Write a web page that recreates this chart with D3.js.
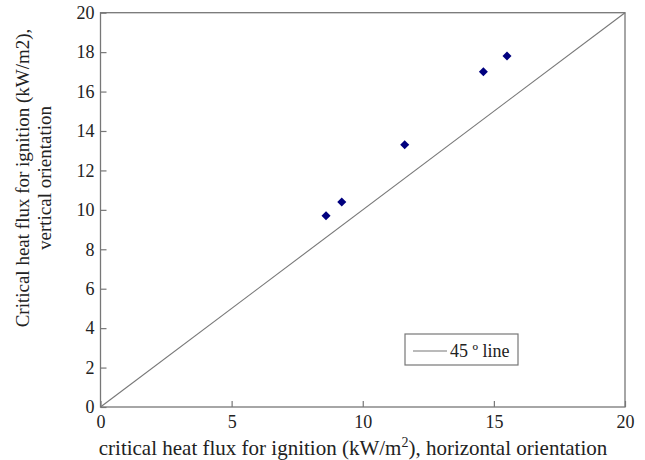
<!DOCTYPE html>
<html>
<head>
<meta charset="utf-8">
<script src="https://cdn.jsdelivr.net/npm/d3@7"></script>
<style>
  body { margin: 0; background: #fff; }
  text { font-family: "Liberation Serif", "Times New Roman", serif; fill: #222; }
</style>
</head>
<body>
<div id="chart"></div>
<script>
// Data
var horizontal = [8.6, 9.2, 11.6, 14.6, 15.5];
var vertical = [9.7, 10.4, 13.3, 17.0, 17.8];
var xTicks = [0, 5, 10, 15, 20];
var yTicks = [0, 2, 4, 6, 8, 10, 12, 14, 16, 18, 20];
var lineEnds = [0, 20];

var width = 645, height = 460;
var plotLeft = 100.5, plotRight = 625, plotTop = 12.7, plotBottom = 407;

var svg = d3.select("#chart").append("svg")
  .attr("width", width)
  .attr("height", height);

var x = d3.scaleLinear().domain([0, 20]).range([plotLeft, plotRight]);
var y = d3.scaleLinear().domain([0, 20]).range([plotBottom, plotTop]);

// Frame
svg.append("rect")
  .attr("x", plotLeft).attr("y", plotTop)
  .attr("width", plotRight - plotLeft).attr("height", plotBottom - plotTop)
  .attr("fill", "none").attr("stroke", "#777").attr("stroke-width", 1.3);

// Axes with inward ticks
var xAxis = svg.append("g")
  .attr("transform", "translate(0," + plotBottom + ")")
  .call(d3.axisTop(x).tickValues(xTicks).tickSize(6).tickFormat(d3.format("d")));
xAxis.selectAll("text").attr("y", 8).attr("dy", "0.71em").attr("font-size", "18px");

var yAxis = svg.append("g")
  .attr("transform", "translate(" + plotLeft + ",0)")
  .call(d3.axisRight(y).tickValues(yTicks).tickSize(6).tickFormat(d3.format("d")));
yAxis.selectAll("text").attr("x", -6).attr("text-anchor", "end").attr("font-size", "18px");

svg.selectAll(".domain").remove();
svg.selectAll(".tick line").attr("stroke", "#777").attr("stroke-width", 1.2);
svg.selectAll(".tick text").attr("fill", "#222").attr("font-family", "Liberation Serif, serif");

// 45 degree line
svg.append("line")
  .attr("x1", x(lineEnds[0])).attr("y1", y(lineEnds[0]))
  .attr("x2", x(lineEnds[1])).attr("y2", y(lineEnds[1]))
  .attr("stroke", "#777").attr("stroke-width", 1.1);

// Points
var pts = horizontal.map(function(d, i) { return [d, vertical[i]]; });
svg.selectAll("path.pt").data(pts).enter()
  .append("path")
  .attr("class", "pt")
  .attr("d", d3.symbol().type(d3.symbolDiamond2).size(52))
  .attr("transform", function(d) { return "translate(" + x(d[0]) + "," + y(d[1]) + ")"; })
  .attr("fill", "#00007f");

// Legend
var lg = svg.append("g");
lg.append("rect")
  .attr("x", 405).attr("y", 334).attr("width", 113).attr("height", 31)
  .attr("fill", "#fff").attr("stroke", "#777").attr("stroke-width", 1.2);
lg.append("line")
  .attr("x1", 413).attr("x2", 447).attr("y1", 351).attr("y2", 351)
  .attr("stroke", "#777").attr("stroke-width", 1.1);
lg.append("text")
  .attr("x", 450).attr("y", 357)
  .attr("font-size", "18px")
  .text("45 º line");

// X title
var xt = svg.append("text")
  .attr("x", 353).attr("y", 455)
  .attr("text-anchor", "middle")
  .attr("font-size", "21px");
xt.append("tspan").text("critical heat flux for ignition (kW/m");
xt.append("tspan").attr("font-size", "14px").attr("dy", -8).text("2");
xt.append("tspan").attr("dy", 8).text("), horizontal orientation");

// Y title
var yt = svg.append("text")
  .attr("transform", "translate(0,178) rotate(-90)")
  .attr("text-anchor", "middle")
  .attr("font-size", "19px");
yt.append("tspan").attr("x", 0).attr("y", 29).text("Critical heat flux for ignition (kW/m2),");
yt.append("tspan").attr("x", 0).attr("y", 51).text("vertical orientation");
</script>
</body>
</html>
